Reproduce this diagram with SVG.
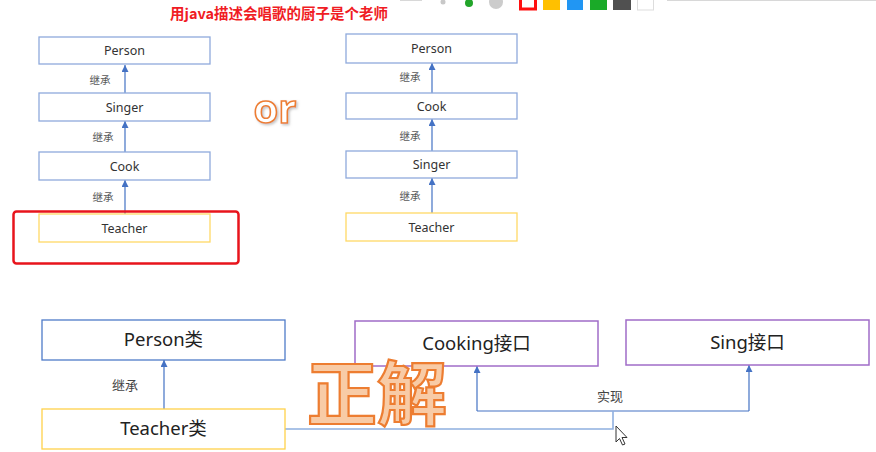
<svg xmlns="http://www.w3.org/2000/svg" width="876" height="452" viewBox="0 0 876 452">
<defs>
<marker id="ah" viewBox="0 0 10 10" refX="10" refY="5" markerWidth="7" markerHeight="7" markerUnits="userSpaceOnUse" orient="auto">
<path d="M0,0 L10,5 L0,10 z" fill="#4472c4"/>
</marker>
<filter id="sh" x="-20%" y="-20%" width="140%" height="140%">
<feDropShadow dx="1.5" dy="1.5" stdDeviation="0.8" flood-color="#c0c0c0" flood-opacity="0.9"/>
</filter>
</defs>
<style>
.bx{fill:#fff;stroke:#8faadc;stroke-width:1.3}
.by{fill:#fff;stroke:#ffd966;stroke-width:1.3}
.bb{fill:#fff;stroke:#4f7bc8;stroke-width:1.3}
.bp{fill:#fff;stroke:#a06cc8;stroke-width:1.5}
.t{font-family:"Noto Sans","Noto Sans CJK SC",sans-serif;font-size:12.5px;fill:#333;text-anchor:middle}
.tl{font-family:"Noto Sans","Noto Sans CJK SC",sans-serif;font-size:18.5px;fill:#222;text-anchor:middle}
.lb{font-family:"Noto Sans CJK SC","Noto Sans",sans-serif;font-size:10.5px;fill:#595959;text-anchor:middle}
.lb2{font-family:"Noto Sans CJK SC","Noto Sans",sans-serif;font-size:13px;fill:#444;text-anchor:middle}
.cn{fill:none;stroke:#4472c4;stroke-width:1.2}
</style>
<rect width="876" height="452" fill="#fff"/>
<g id="toolbar">
<line x1="400" y1="0.5" x2="422" y2="0.5" stroke="#d8d8d8"/>
<line x1="667" y1="0.5" x2="876" y2="0.5" stroke="#d8d8d8"/>
<circle cx="443" cy="2" r="2.5" fill="#c8c8c8"/>
<circle cx="469" cy="3" r="4" fill="#22a52a"/>
<circle cx="496" cy="2" r="7" fill="#cccccc"/>
<rect x="520.5" y="-2" width="15" height="11" fill="#fff" stroke="#ff1010" stroke-width="3"/>
<rect x="543" y="0" width="17" height="10" fill="#ffc000"/>
<rect x="567" y="0" width="16" height="10" fill="#2196f3"/>
<rect x="590" y="0" width="17" height="10" fill="#1aaa28"/>
<rect x="613" y="0" width="18" height="10" fill="#505050"/>
<rect x="637.5" y="-1" width="16" height="11" fill="#fff" stroke="#dddddd"/>
</g>
<text x="279" y="19" font-family="'Noto Sans CJK SC','Noto Sans',sans-serif" font-size="14.5" font-weight="bold" fill="#f01c24" text-anchor="middle">用java描述会唱歌的厨子是个老师</text>
<g id="connectors">
<line class="cn" x1="125" y1="93" x2="125" y2="65" marker-end="url(#ah)"/>
<line class="cn" x1="125" y1="152" x2="125" y2="121" marker-end="url(#ah)"/>
<line class="cn" x1="125" y1="214" x2="125" y2="180" marker-end="url(#ah)"/>
<line class="cn" x1="432" y1="93" x2="432" y2="63" marker-end="url(#ah)"/>
<line class="cn" x1="432" y1="151" x2="432" y2="119" marker-end="url(#ah)"/>
<line class="cn" x1="432" y1="213" x2="432" y2="178" marker-end="url(#ah)"/>
<line class="cn" x1="164" y1="409" x2="164" y2="360" marker-end="url(#ah)"/>
<polyline class="cn" points="477,411 749,411"/>
<line class="cn" x1="477" y1="411" x2="477" y2="366" marker-end="url(#ah)"/>
<line class="cn" x1="749" y1="411" x2="749" y2="365" marker-end="url(#ah)"/>
<polyline fill="none" stroke="#8fb0e0" stroke-width="1.6" points="285,429 613,429 613,411"/>
<text class="lb" x="100" y="84">继承</text>
<text class="lb" x="103" y="141">继承</text>
<text class="lb" x="103" y="201">继承</text>
<text class="lb" x="410" y="81">继承</text>
<text class="lb" x="410" y="140">继承</text>
<text class="lb" x="410" y="200">继承</text>
<text class="lb2" x="125" y="390">继承</text>
<text class="lb2" x="610" y="401">实现</text>
</g>
<g id="l-person"><rect class="bx" x="39" y="37" width="171" height="27"/><text class="t" x="124.5" y="55">Person</text></g>
<g id="l-singer"><rect class="bx" x="39" y="93" width="171" height="28"/><text class="t" x="124.5" y="111.5">Singer</text></g>
<g id="l-cook"><rect class="bx" x="39" y="152" width="171" height="28"/><text class="t" x="124.5" y="170.5">Cook</text></g>
<g id="l-teacher"><rect class="by" x="39" y="214" width="171" height="28"/><text class="t" x="124.5" y="232.5">Teacher</text></g>
<rect x="13.5" y="211.5" width="225" height="52" rx="3" fill="none" stroke="#e8141c" stroke-width="2.5"/>
<text x="275" y="123" font-family="'Open Sans','Noto Sans',sans-serif" font-size="40" font-weight="bold" fill="#fff" stroke="#ed7d31" stroke-width="1.6" text-anchor="middle" filter="url(#sh)">or</text>
<g id="r-person"><rect class="bx" x="346" y="34" width="171" height="29"/><text class="t" x="431.5" y="53">Person</text></g>
<g id="r-cook"><rect class="bx" x="346" y="93" width="171" height="26"/><text class="t" x="431.5" y="110.5">Cook</text></g>
<g id="r-singer"><rect class="bx" x="346" y="151" width="171" height="27"/><text class="t" x="431.5" y="169">Singer</text></g>
<g id="r-teacher"><rect class="by" x="346" y="213" width="171" height="28"/><text class="t" x="431.5" y="231.5">Teacher</text></g>
<g id="b-person"><rect class="bb" x="42" y="320" width="243" height="40"/><text class="tl" x="163.5" y="346">Person类</text></g>
<g id="b-teacher"><rect class="by" x="42" y="409" width="243" height="40" style="stroke:#ffd24a"/><text class="tl" x="163.5" y="435">Teacher类</text></g>
<g id="b-cooking"><rect class="bp" x="355" y="321" width="243" height="45"/><text class="tl" x="476.5" y="349.5">Cooking接口</text></g>
<g id="b-sing"><rect class="bp" x="626" y="320" width="243" height="45"/><text class="tl" x="747.5" y="348.5">Sing接口</text></g>
<text x="377" y="420" font-family="'Noto Sans CJK SC',sans-serif" font-size="70" font-weight="bold" fill="#f8cba6" stroke="#ed7d31" stroke-width="2.2" text-anchor="middle">正解</text>
<path d="M616,426 L616,442 L619.5,438.5 L622.5,445 L625,444 L622,437.5 L627,437.5 Z" fill="#fff" stroke="#333" stroke-width="1" stroke-linejoin="round"/>
</svg>
